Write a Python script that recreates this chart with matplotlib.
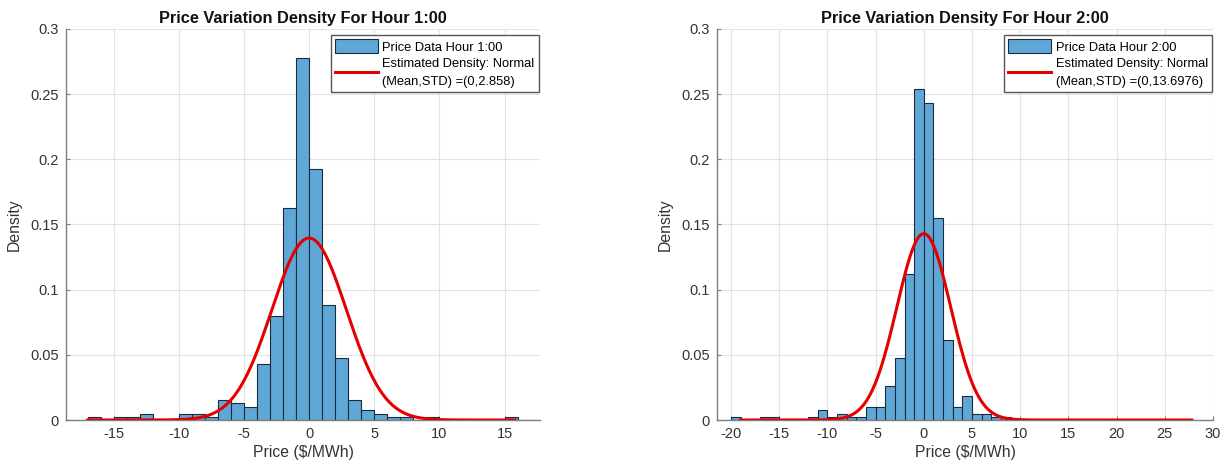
import matplotlib
matplotlib.use("Agg")
import matplotlib.pyplot as plt
import numpy as np

# ---- data ------------------------------------------------------------------------
# hour 1: unit-width bins, left edges and density
h1_edges = np.arange(-17, 17)
h1_density = [0.0023, 0, 0.0023, 0.0023, 0.0046, 0, 0, 0.0046, 0.0046, 0.0023,
              0.0156, 0.0130, 0.0103, 0.0426, 0.0800, 0.1628, 0.2777, 0.1923,
              0.0880, 0.0477, 0.0156, 0.0077, 0.0046, 0.0023, 0.0023, 0, 0.0023,
              0, 0, 0, 0, 0, 0.0023, 0]
h1_mean, h1_std = 0.0, 2.858
h1_range = (-17.0, 15.8)

# hour 2
h2_edges = np.arange(-20, 10)
h2_density = [0.0023, 0, 0, 0.0023, 0.0023, 0, 0, 0, 0.0023, 0.0077, 0.0023,
              0.0046, 0.0023, 0.0023, 0.0103, 0.0103, 0.0264, 0.0477, 0.1123,
              0.2538, 0.2431, 0.1549, 0.0610, 0.0103, 0.0182, 0.0046, 0.0046,
              0.0023, 0.0023, 0]
h2_mean, h2_std = 0.0, 2.79          # curve as drawn (legend text says 13.6976)
h2_range = (-19.0, 27.8)

panels = [
    dict(edges=h1_edges, dens=h1_density, mu=h1_mean, sd=h1_std, rng=h1_range,
         hour="1:00", label_sd="2.858", xlim=(-18.66, 17.72),
         xticks=[-15, -10, -5, 0, 5, 10, 15]),
    dict(edges=h2_edges, dens=h2_density, mu=h2_mean, sd=h2_std, rng=h2_range,
         hour="2:00", label_sd="13.6976", xlim=(-21.45, 30),
         xticks=[-20, -15, -10, -5, 0, 5, 10, 15, 20, 25, 30]),
]

BAR = "#5fa7d7"
EDGE = "#1c2b3a"
AXC = "#7f7f7f"
TXT = "#333333"

plt.rcParams.update({
    "font.family": ["Liberation Sans", "DejaVu Sans"],
    "font.size": 10.5,
    "axes.unicode_minus": False,
})

fig = plt.figure(figsize=(12.3, 4.7), dpi=100)
boxes = [[66 / 1230, 50 / 470, 474 / 1230, 391 / 470],
         [717 / 1230, 50 / 470, 496 / 1230, 391 / 470]]

for box, p in zip(boxes, panels):
    ax = fig.add_axes(box)
    bars = ax.bar(p["edges"], p["dens"], width=1.0, align="edge", color=BAR,
                  edgecolor=EDGE, linewidth=0.8, zorder=2)
    x = np.linspace(p["rng"][0], p["rng"][1], 400)
    y = np.exp(-0.5 * ((x - p["mu"]) / p["sd"]) ** 2) / (p["sd"] * np.sqrt(2 * np.pi))
    line, = ax.plot(x, y, color="#e50000", linewidth=2.2, zorder=3)
    ax.set_xlim(*p["xlim"])
    ax.set_ylim(0, 0.3)
    ax.set_xticks(p["xticks"])
    ax.set_yticks([0, 0.05, 0.1, 0.15, 0.2, 0.25, 0.3])
    ax.set_yticklabels(["0", "0.05", "0.1", "0.15", "0.2", "0.25", "0.3"])
    ax.grid(color="#e3e3e3", linewidth=0.8, zorder=0)
    ax.set_axisbelow(True)
    for s in ["top", "right"]:
        ax.spines[s].set_visible(False)
    for s in ["left", "bottom"]:
        ax.spines[s].set_color(AXC)
        ax.spines[s].set_linewidth(1.0)
    ax.tick_params(direction="in", length=3, color=AXC, labelcolor=TXT,
                   labelsize=10.5, pad=5)
    ax.set_title(f"Price Variation Density For Hour {p['hour']}",
                 fontsize=11.8, fontweight="bold", color="#111111", pad=4)
    ax.set_xlabel("Price (\\$/MWh)", fontsize=11.3, color=TXT, labelpad=3)
    ax.set_ylabel("Density", fontsize=11.3, color=TXT, labelpad=6)
    axw = box[2] * 1230
    leg = ax.legend([bars, line],
                    [f"Price Data Hour {p['hour']}",
                     f"Estimated Density: Normal\n(Mean,STD) =(0,{p['label_sd']})"],
                    loc="upper right", bbox_to_anchor=(1 - 1.5 / axw, 1 - 6.5 / 391),
                    borderaxespad=0, fontsize=9.3, frameon=True, fancybox=False,
                    edgecolor="#555555", framealpha=1, borderpad=0.3,
                    labelspacing=0.35, handlelength=3.3, handleheight=1.3,
                    handletextpad=0.35)
    for t in leg.get_texts():
        t.set_linespacing(1.6)
    leg.get_frame().set_linewidth(1.0)

fig.savefig("out.png", dpi=100)
